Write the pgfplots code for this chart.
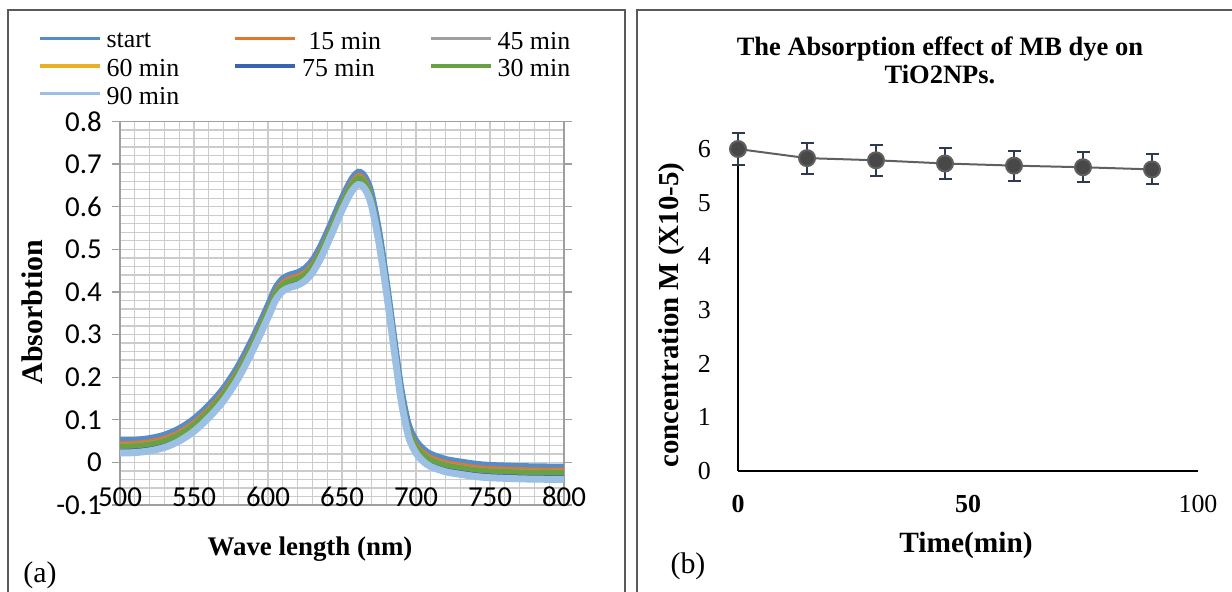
\documentclass[border=0pt]{standalone}
\usepackage{fontspec}
\setmainfont{Liberation Serif}
\newfontfamily\carlito{Carlito}
\usepackage{pgfplots}
\usepackage{pgfplotstable}
\pgfplotsset{compat=1.18}

\definecolor{cStart}{RGB}{84,141,200}
\definecolor{cA}{RGB}{226,118,46}
\definecolor{cB}{RGB}{160,160,160}
\definecolor{cC}{RGB}{232,176,34}
\definecolor{cD}{RGB}{58,100,178}
\definecolor{cE}{RGB}{104,162,66}
\definecolor{cF}{RGB}{155,192,228}
\definecolor{gridc}{RGB}{204,204,204}
\definecolor{framec}{RGB}{90,90,90}
\definecolor{lineC}{RGB}{95,95,95}
\definecolor{markC}{RGB}{72,72,72}
\definecolor{ebarC}{RGB}{45,58,82}

% legend text cell of fixed width
\newcommand{\lgd}[1]{\makebox[132bp][l]{\hspace{5bp}#1}}

% UV-vis spectra of MB (absorbance vs wavelength) at each contact time
\pgfplotstableread{
x   s0     s15    s45    s30    s60    s75    s90
500 0.052  0.046  0.040  0.038  0.031  0.029  0.022
510 0.053  0.047  0.041  0.039  0.032  0.030  0.023
520 0.057  0.051  0.045  0.043  0.036  0.034  0.027
530 0.065  0.059  0.053  0.051  0.044  0.042  0.035
540 0.080  0.074  0.068  0.066  0.059  0.057  0.050
550 0.103  0.097  0.091  0.089  0.082  0.080  0.073
560 0.135  0.129  0.123  0.121  0.114  0.112  0.105
570 0.175  0.169  0.163  0.161  0.154  0.152  0.145
580 0.228  0.222  0.216  0.214  0.207  0.205  0.198
590 0.295  0.289  0.283  0.281  0.274  0.272  0.265
600 0.370  0.364  0.358  0.356  0.349  0.347  0.340
605 0.410  0.404  0.398  0.396  0.389  0.387  0.380
610 0.432  0.426  0.420  0.418  0.411  0.409  0.402
615 0.441  0.435  0.429  0.427  0.420  0.418  0.411
620 0.446  0.440  0.434  0.432  0.425  0.423  0.416
625 0.456  0.450  0.444  0.442  0.435  0.433  0.426
630 0.475  0.469  0.463  0.461  0.454  0.452  0.445
635 0.505  0.499  0.493  0.491  0.484  0.482  0.475
640 0.542  0.536  0.530  0.528  0.521  0.519  0.512
645 0.582  0.576  0.570  0.568  0.561  0.559  0.552
650 0.622  0.616  0.610  0.608  0.601  0.599  0.592
655 0.657  0.651  0.645  0.643  0.636  0.634  0.627
658 0.673  0.667  0.661  0.659  0.652  0.650  0.643
661 0.682  0.676  0.670  0.668  0.661  0.659  0.652
664 0.678  0.672  0.666  0.664  0.657  0.655  0.648
667 0.662  0.656  0.650  0.648  0.641  0.639  0.632
670 0.632  0.626  0.620  0.618  0.611  0.609  0.602
675 0.545  0.539  0.533  0.531  0.524  0.522  0.515
680 0.430  0.424  0.418  0.416  0.409  0.407  0.400
685 0.300  0.294  0.288  0.286  0.279  0.277  0.270
690 0.175  0.169  0.163  0.161  0.154  0.152  0.145
695 0.090  0.084  0.078  0.076  0.069  0.067  0.060
700 0.052  0.046  0.040  0.038  0.031  0.029  0.022
705 0.032  0.026  0.020  0.018  0.011  0.009  0.002
710 0.020  0.014  0.008  0.006  -0.001 -0.003 -0.010
720 0.008  0.002  -0.004 -0.006 -0.013 -0.015 -0.022
730 0.002  -0.004 -0.010 -0.012 -0.019 -0.021 -0.028
740 -0.003 -0.009 -0.015 -0.017 -0.024 -0.026 -0.033
750 -0.006 -0.012 -0.018 -0.020 -0.027 -0.029 -0.036
775 -0.009 -0.015 -0.021 -0.023 -0.030 -0.032 -0.039
800 -0.010 -0.016 -0.022 -0.024 -0.031 -0.033 -0.040
}\spectra

\begin{document}
\begin{tikzpicture}
\path[use as bounding box] (0,0) rectangle (1232bp,592bp);

% panel frames
\draw[framec, line width=1.6bp] (8bp,-2bp) -- (8bp,582bp) -- (625bp,582bp) -- (625bp,-2bp);
\draw[framec, line width=1.6bp] (637bp,-2bp) -- (637bp,582bp) -- (1234bp,582bp);

% (a) spectra
\begin{axis}[
  at={(120bp,87bp)}, anchor=south west, scale only axis,
  width=444bp, height=383.5bp,
  xmin=500, xmax=800, ymin=-0.1, ymax=0.8,
  xtick={500,550,600,650,700,750,800},
  xticklabels={500,550,600,650,700,750,800},
  ytick={-0.1,0,0.1,0.2,0.3,0.4,0.5,0.6,0.7,0.8},
  yticklabels={-0.1,0,0.1,0.2,0.3,0.4,0.5,0.6,0.7,0.8},
  minor x tick num=4, minor y tick num=4,
  grid=both, grid style={gridc, line width=1.3bp},
  minor grid style={gridc, line width=1.3bp},
  major grid style={gridc, line width=1.3bp},
  axis line style={gray!75, line width=1.3bp},
  tick align=outside, major tick length=8bp, minor tick length=0pt,
  xtick style={draw=none}, ytick style={gray!75, line width=1.3bp},
  ticklabel style={font=\carlito\fontsize{29}{29}\selectfont},
  yticklabel style={anchor=east, inner sep=0pt},
  yticklabel shift=10bp,
  xticklabel style={anchor=center, inner sep=0pt},
  xticklabel shift=-16bp,
  xlabel={Wave length (nm)},
  ylabel={Absorbtion},
  xlabel style={at={(axis description cs:0.428,-0.1147)}, anchor=center, font=\bfseries\fontsize{27}{27}\selectfont},
  ylabel style={at={(axis description cs:-0.198,0.5033)}, anchor=center, rotate=0, font=\bfseries\fontsize{30}{30}\selectfont},
  legend columns=3,
  legend cell align=left,
  legend style={at={(axis description cs:-0.185,1.234)}, anchor=north west,
    draw=none, fill=none, inner sep=0pt, row sep=9bp, column sep=0pt,
    font=\fontsize{26}{27}\selectfont,
    nodes={inner sep=0pt}},
  legend image code/.code={\draw[#1, line width=3.5bp] (0bp,0.3em) -- (60bp,0.3em);},
]
\addplot[cStart, line width=6bp, smooth] table[x=x, y=s0] {\spectra};
\addlegendentry{\lgd{start}}
\addplot[cA, line width=3bp, smooth] table[x=x, y=s15] {\spectra};
\addlegendentry{\lgd{\ 15 min}}
\addplot[cB, line width=4bp, smooth] table[x=x, y=s45] {\spectra};
\addlegendentry{\lgd{45 min}}
\addplot[cC, line width=3bp, smooth] table[x=x, y=s60] {\spectra};
\addlegendentry{\lgd{60 min}}
\addplot[cD, line width=3bp, smooth] table[x=x, y=s75] {\spectra};
\addlegendentry{\lgd{75 min}}
\addplot[cE, line width=5bp, smooth] table[x=x, y=s30] {\spectra};
\addlegendentry{\lgd{30 min}}
\addplot[cF, line width=7bp, smooth] table[x=x, y=s90] {\spectra};
\addlegendentry{\lgd{90 min}}
\end{axis}

% (b) concentration vs time
\begin{axis}[
  at={(738bp,121bp)}, anchor=south west, scale only axis,
  width=460bp, height=322bp,
  xmin=0, xmax=100, ymin=0, ymax=6,
  axis lines=left, axis line style={black, line width=1.6bp, -},
  xtick={0,50,100}, xticklabels={\textbf{0},\textbf{50},100},
  ytick={0,1,2,3,4,5,6}, yticklabels={0,1,2,3,4,5,6},
  major tick length=0pt,
  ticklabel style={font=\fontsize{26}{26}\selectfont, inner sep=0pt},
  yticklabel style={anchor=east},
  yticklabel shift=27bp,
  xticklabel style={anchor=center},
  xticklabel shift=33bp,
  clip=false,
  title={The Absorption effect of MB dye on\\TiO2NPs.},
  title style={at={(axis description cs:0.439,1.257)}, anchor=center, align=center,
    font=\bfseries\fontsize{26.6}{28}\selectfont},
  xlabel={Time(min)},
  ylabel={concentration M (X10-5)},
  xlabel style={at={(axis description cs:0.4957,-0.2298)}, anchor=center, font=\bfseries\fontsize{29.5}{29.5}\selectfont},
  ylabel style={at={(axis description cs:-0.1446,0.4845)}, anchor=center, rotate=0, font=\bfseries\fontsize{29}{29}\selectfont},
]
\addplot[color=lineC, line width=2bp, mark=*, mark size=8bp,
  mark options={fill=markC, draw=none},
  error bars/.cd, y dir=both, y explicit,
  error bar style={line width=2bp, ebarC},
  error mark options={line width=2bp, ebarC, mark size=6.5bp, rotate=90}]
coordinates {
  (0,6.00)  +- (0,0.30)
  (15,5.83) +- (0,0.29)
  (30,5.79) +- (0,0.29)
  (45,5.73) +- (0,0.29)
  (60,5.69) +- (0,0.28)
  (75,5.66) +- (0,0.28)
  (90,5.62) +- (0,0.28)
};
\end{axis}

\node[font=\fontsize{30}{30}\selectfont] at (40bp,17bp) {(a)};
\node[font=\fontsize{30}{30}\selectfont] at (688bp,26bp) {(b)};
\end{tikzpicture}
\end{document}
